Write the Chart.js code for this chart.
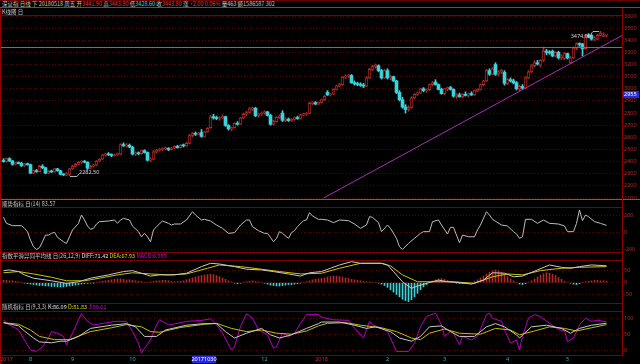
<!DOCTYPE html>
<html>
<head>
<meta charset="utf-8">
<script src="https://cdn.jsdelivr.net/npm/chart.js@4.4.1/dist/chart.umd.min.js"></script>
<style>
  body { margin: 0; background: #000; width: 640px; height: 364px; overflow: hidden; position: relative;
         font-family: "Noto Sans CJK SC", "Noto Sans", sans-serif; }
  .txt { position: absolute; font-size: 5.5px; line-height: 7px; white-space: nowrap; color: #c8c8c8; }
  .hl { position: absolute; height: 1px; }
  .vl { position: absolute; width: 1px; }
  canvas { position: absolute; left: 0; }
  .r { color: #e03c3c; } .c { color: #3cd8d8; } .y { color: #d8d800; } .m { color: #d800d8; } .w { color: #e0e0e0; }
</style>
</head>
<body>
<div class="hl" style="top:0;left:0;width:640px;background:#6a0000"></div>
<div class="hl" style="top:7px;left:0;width:640px;background:#555"></div>
<div class="hl" style="top:15px;left:0;width:622px;background:#800000"></div>
<div class="hl" style="top:199px;left:0;width:640px;background:#666"></div>
<div class="hl" style="top:207px;left:0;width:622px;background:#800000"></div>
<div class="hl" style="top:252px;left:0;width:622px;background:#800000"></div>
<div class="hl" style="top:260px;left:0;width:622px;background:#800000"></div>
<div class="hl" style="top:303px;left:0;width:622px;background:#800000"></div>
<div class="hl" style="top:311px;left:0;width:622px;background:#800000"></div>
<div class="hl" style="top:355px;left:0;width:622px;background:#800000"></div>
<div class="vl" style="left:0;top:8px;height:356px;background:#900000"></div>
<div class="vl" style="left:622px;top:8px;height:348px;background:#900000"></div>

<canvas id="cMain" width="640" height="191" style="top:9px"></canvas>
<canvas id="cCci" width="640" height="45" style="top:207px"></canvas>
<canvas id="cMacd" width="640" height="43" style="top:260px"></canvas>
<canvas id="cKdj" width="640" height="53" style="top:311px"></canvas>

<div class="txt" id="info" style="left:2px;top:0.5px"></div>
<div class="txt" style="left:2px;top:8.5px">K线图 日</div>
<div class="txt" id="cciHead" style="left:2px;top:200.5px"></div>
<div class="txt" id="macdHead" style="left:2px;top:252.5px"></div>
<div class="txt" id="kdjHead" style="left:2px;top:303.5px"></div>

<script>
// daily candles, 2017-07 .. 2018-05-18
const opens = [
  2410,2400,2425,2405,2378,2390,2385,2365,2380,2375,
  2305,2325,2318,2362,2350,2305,2320,2315,2340,2325,
  2295,2290,2295,2340,2362,2378,2395,2400,2395,2345,
  2362,2370,2405,2420,2455,2462,2455,2450,2458,2462,
  2540,2530,2535,2520,2462,2470,2465,2490,2475,2412,
  2420,2480,2492,2500,2505,2510,2500,2512,2525,2515,
  2535,2530,2550,2615,2630,2625,2640,2608,2645,2680,
  2770,2760,2755,2762,2770,2698,2670,2680,2715,2708,
  2760,2790,2805,2835,2840,2778,2792,2800,2810,2780,
  2708,2730,2765,2800,2740,2750,2738,2748,2760,2755,
  2785,2790,2798,2880,2885,2875,2888,2910,2970,2950,
  2955,2995,3025,3035,3095,3105,3110,3050,3040,3035,
  3030,3022,3090,3160,3185,3190,3150,3090,3150,3090,
  3100,3065,2970,2910,2850,2830,2845,2925,2955,2965,
  3000,2985,2992,3035,3055,3035,2995,2960,3000,3010,
  2995,2940,2950,2935,2955,2945,2960,2950,2985,2995,
  3035,3065,3150,3120,3200,3120,3140,3135,3045,3075,
  3065,3050,3000,3020,3005,3090,3140,3190,3215,3195,
  3235,3310,3300,3310,3270,3300,3255,3250,3290,3215,
  3255,3335,3370,3370,3330,3440,3440,3410,3410,3440,
  3432,3441.9
];
const highs = [
  2425,2430,2432,2410,2395,2398,2395,2385,2388,2380,
  2330,2335,2370,2375,2352,2325,2330,2345,2345,2328,
  2300,2310,2345,2370,2385,2400,2408,2410,2398,2370,
  2380,2410,2425,2460,2470,2475,2465,2462,2470,2548,
  2555,2550,2545,2525,2480,2480,2495,2498,2480,2430,
  2490,2500,2510,2515,2520,2515,2518,2530,2535,2540,
  2545,2560,2625,2640,2645,2640,2665,2650,2680,2780,
  2790,2775,2770,2785,2775,2705,2685,2720,2730,2765,
  2800,2815,2845,2850,2848,2800,2810,2820,2815,2790,
  2740,2770,2785,2820,2760,2760,2755,2768,2775,2790,
  2800,2805,2890,2895,2895,2892,2915,2945,2985,2960,
  3000,3030,3045,3100,3115,3120,3118,3065,3055,3050,
  3045,3100,3170,3195,3205,3198,3160,3160,3165,3110,
  3105,3070,2985,2930,2870,2860,2935,2960,2975,3005,
  3010,3000,3040,3060,3075,3040,3005,3005,3015,3020,
  3000,2960,2965,2960,2975,2965,2975,2990,3000,3040,
  3070,3160,3165,3175,3215,3150,3160,3150,3085,3090,
  3080,3060,3030,3035,3100,3150,3200,3230,3235,3240,
  3345,3325,3315,3320,3305,3310,3280,3300,3295,3265,
  3345,3380,3380,3375,3450,3455,3450,3430,3450,3474,
  3462,3443.8
];
const lows = [
  2395,2395,2400,2370,2372,2380,2360,2360,2370,2300,
  2300,2310,2315,2340,2300,2300,2310,2312,2320,2290,
  2285,2284,2282.5,2335,2355,2372,2385,2390,2335,2340,
  2355,2365,2398,2415,2445,2450,2440,2445,2450,2458,
  2525,2520,2515,2455,2450,2455,2460,2470,2405,2400,
  2415,2470,2485,2490,2495,2490,2495,2505,2510,2512,
  2520,2525,2545,2605,2615,2620,2600,2605,2640,2675,
  2750,2745,2740,2755,2690,2660,2655,2675,2700,2705,
  2755,2780,2800,2820,2770,2765,2780,2790,2775,2700,
  2700,2725,2755,2730,2730,2730,2732,2740,2748,2750,
  2775,2780,2795,2870,2868,2870,2882,2905,2945,2940,
  2950,2990,3015,3030,3085,3095,3045,3030,3025,3020,
  3010,3018,3085,3150,3170,3140,3080,3085,3080,3075,
  3060,2960,2900,2840,2800,2815,2840,2920,2945,2960,
  2975,2970,2988,3025,3030,2990,2955,2950,2985,2990,
  2930,2920,2930,2925,2940,2930,2945,2945,2975,2990,
  3025,3060,3110,3115,3110,3105,3125,3030,3035,3055,
  3040,2990,2985,2995,3000,3085,3135,3180,3195,3180,
  3225,3280,3285,3265,3265,3245,3240,3240,3245,3210,
  3250,3320,3350,3270,3325,3420,3400,3395,3405,3435,
  3428,3428.6
];
const closes = [
  2400,2425,2405,2378,2390,2385,2365,2380,2375,2305,
  2325,2318,2362,2350,2305,2320,2315,2340,2325,2295,
  2290,2300,2340,2362,2378,2395,2400,2395,2345,2362,
  2370,2405,2420,2455,2462,2455,2450,2458,2462,2540,
  2530,2535,2520,2462,2470,2465,2490,2475,2412,2420,
  2480,2492,2500,2505,2510,2500,2512,2525,2515,2535,
  2530,2550,2615,2630,2625,2632,2608,2645,2675,2770,
  2760,2755,2762,2770,2698,2670,2680,2715,2708,2760,
  2790,2805,2835,2840,2778,2792,2800,2810,2780,2708,
  2730,2765,2775,2740,2750,2738,2748,2760,2755,2785,
  2790,2798,2880,2885,2875,2888,2910,2938,2950,2955,
  2995,3025,3035,3095,3105,3110,3050,3040,3035,3030,
  3022,3090,3160,3185,3190,3150,3090,3150,3090,3100,
  3065,2970,2910,2850,2830,2845,2925,2955,2965,3000,
  2985,2992,3035,3050,3035,2995,2960,3000,3010,2995,
  2940,2950,2935,2955,2945,2960,2950,2985,2995,3035,
  3065,3150,3120,3165,3120,3140,3150,3045,3075,3065,
  3050,3000,3020,3005,3090,3140,3190,3215,3205,3235,
  3310,3300,3295,3270,3300,3255,3270,3290,3255,3255,
  3335,3370,3365,3330,3440,3430,3410,3420,3440,3460,
  3441.8,3443.8
];

const priceTicks = [3600,3500,3400,3300,3200,3100,3000,2900,2800,2700,2600,2500,2400,2300,2200,2100];
const cciTicks = [200, 0, -200];
const macdTicks = [50, 0, -50];
const kdjTicks = [100, 50, 0];

// date axis: candle index of each month label
const monthTickIdx = [1, 9, 23, 43, 87, 106, 128, 147, 168, 188];
const monthTickLabels = ['2017', '8', '9', '10', '12', '2018', '2', '3', '4', '5'];
const cursorIdx = 67;
const cursorDate = '20171030';
const cursorPrice = 2955;

// drawn lines on the price panel: [candle index, price]
const trendLine = [[106.7, 2100], [206.3, 3441]];
const levelLine = 3340;

// indicator lines: [candle index, value]
const cciPts = [[0,181],[1,108],[3,80],[6,80],[7,48],[8,7],[9,-93],[10,-173],[11,-205],[12,-185],[13,-113],[14,-33],[15,-33],[16,-12],[17,0],[18,-60],[20,-113],[21,-133],[22,-53],[23,28],[25,108],[26,208],[27,148],[28,76],[29,36],[30,48],[31,100],[32,128],[35,136],[37,148],[38,108],[39,148],[40,168],[42,148],[43,76],[45,7],[46,-53],[47,-12],[48,-53],[49,-113],[50,28],[51,68],[53,136],[55,108],[56,88],[57,100],[59,100],[61,148],[63,248],[64,208],[66,148],[67,156],[69,136],[71,88],[73,48],[75,-12],[77,-4],[79,88],[81,148],[82,148],[83,68],[85,20],[87,-12],[88,-12],[89,-60],[90,-113],[91,-72],[92,8],[93,-12],[95,-72],[96,-4],[97,20],[98,68],[100,140],[101,148],[102,236],[103,196],[105,156],[106,156],[108,148],[110,116],[112,148],[115,140],[117,100],[119,48],[121,88],[122,188],[123,180],[125,116],[126,8],[128,88],[129,48],[131,-72],[132,-173],[133,-205],[135,-133],[137,-72],[139,-12],[140,8],[142,8],[143,128],[145,148],[146,88],[148,-20],[149,60],[150,60],[152,-125],[153,-33],[155,-53],[157,-53],[158,28],[159,88],[161,248],[162,208],[163,156],[166,88],[168,76],[170,8],[171,-20],[172,-72],[173,-53],[174,156],[176,156],[178,108],[180,148],[182,108],[185,100],[187,76],[188,8],[190,8],[191,108],[192,268],[193,140],[194,208],[195,188],[197,128],[199,108],[201,83.57]];

const diffPts = [[0,51],[2,54],[5,47],[7,33],[10,19],[16,8],[21,-3],[25,4],[29,19],[35,33],[40,47],[43,51],[46,40],[49,28],[52,33],[57,33],[61,40],[66,68],[69,82],[72,79],[77,68],[81,57],[86,54],[90,47],[95,37],[99,28],[102,42],[106,47],[109,61],[112,75],[116,89],[119,82],[122,82],[126,82],[128,75],[130,47],[133,4],[136,-24],[138,-14],[141,-3],[145,11],[148,4],[152,0],[156,-6],[160,11],[163,42],[167,40],[170,25],[173,28],[178,54],[182,75],[186,65],[189,61],[192,68],[196,75],[201,71.42]];
const deaPts = [[0,42],[5,47],[10,37],[16,23],[21,8],[27,8],[32,19],[38,33],[43,42],[49,37],[55,33],[61,37],[68,61],[72,75],[79,68],[86,57],[92,47],[99,37],[106,40],[112,61],[119,82],[126,82],[129,71],[133,33],[138,4],[143,4],[150,4],[157,-3],[163,25],[168,37],[173,33],[179,51],[186,61],[192,65],[201,67.93]];
const macdHist = [
  10,10,8,8,6,4,2,
  -2,-4,-6,-8,-10,-12,-12,-14,-14,-16,-16,-18,-18,-18,-16,-14,-12,-10,-8,-6,-4,-3,-2,-1,
  2,4,6,8,10,12,14,16,16,14,12,12,10,8,6,4,2,2,4,6,8,8,10,10,8,6,4,4,6,8,
  12,16,20,24,28,30,32,34,36,34,30,26,20,14,8,
  4,-2,-4,-2,2,4,6,8,6,4,2,-2,-6,-10,-12,
  -14,-14,-12,-10,-8,-8,-6,-4,-2,2,4,8,12,14,16,
  18,20,24,26,28,28,26,24,20,18,14,12,10,8,6,4,4,2,0,-2,
  -6,-12,-20,-30,-40,-50,-60,-70,-76,-80,-72,-60,-45,
  -30,-18,-8,2,8,12,16,18,14,10,6,2,
  -2,-4,-4,-2,0,2,6,12,
  20,28,36,44,50,54,50,44,36,26,16,8,
  0,-6,-8,-4,2,8,
  16,24,32,38,42,40,36,30,22,14,6,2,
  -2,-6,-8,-4,0,
  4,6,8,10,10,8,8,6.989
];

const kPts = [[0,88],[5,78],[7,62],[10,40],[12,28],[16,25],[19,30],[21,30],[25,45],[29,70],[36,80],[41,85],[44,75],[47,45],[51,45],[54,65],[61,80],[67,85],[71,85],[74,60],[77,40],[81,55],[86,70],[89,50],[92,40],[96,50],[101,70],[105,85],[106,90],[112,90],[117,80],[121,70],[124,75],[129,60],[132,40],[136,30],[139,45],[142,75],[146,78],[149,60],[152,45],[157,45],[161,75],[164,85],[167,75],[171,50],[172,40],[176,75],[181,80],[186,70],[189,55],[192,70],[196,80],[201,86.09]];
const dPts = [[0,88],[5,83],[9,65],[12,45],[17,35],[22,35],[29,60],[36,72],[41,82],[46,75],[49,60],[52,58],[59,73],[67,83],[71,86],[76,70],[81,60],[86,65],[91,55],[96,52],[101,62],[105,78],[108,86],[114,88],[119,80],[126,72],[131,60],[136,40],[139,35],[142,55],[147,68],[152,55],[159,52],[164,70],[169,65],[172,50],[177,62],[182,75],[187,70],[191,62],[196,72],[201,81.83]];
const jPts = [[0,97],[1,86],[5,66],[7,34],[9,3],[11,-2],[13,13],[15,40],[16,60],[18,55],[20,45],[21,19],[23,55],[25,97],[26,116],[28,92],[30,81],[32,84],[37,92],[41,92],[43,60],[45,24],[46,-7],[47,8],[49,34],[51,81],[52,97],[55,81],[57,84],[61,92],[66,95],[69,100],[71,81],[73,55],[76,3],[77,13],[79,76],[81,116],[83,102],[85,66],[88,50],[90,8],[91,13],[93,55],[95,45],[97,55],[99,86],[101,113],[105,113],[106,105],[110,97],[115,95],[117,71],[120,40],[122,92],[123,81],[126,71],[128,60],[130,19],[131,-2],[135,-2],[137,24],[139,76],[141,107],[144,118],[146,81],[147,45],[149,60],[150,55],[152,19],[153,45],[156,34],[158,45],[161,113],[162,118],[163,102],[166,92],[167,66],[169,24],[171,34],[172,3],[173,45],[175,102],[177,113],[179,107],[182,86],[185,66],[187,63],[188,29],[190,40],[192,81],[194,102],[196,92],[198,95],[201,90.61]];

const RED = '#b02a2a';
const CYAN = '#3cd4dc';
const XMIN = -0.8333, XMAX = 206.1667;

function pts(arr) {
  return arr.map(p => ({ x: p[0], y: p[1] }));
}

function lineSet(arr, color) {
  return { type: 'line', data: pts(arr), borderColor: color, borderWidth: 1, pointRadius: 0, tension: 0, order: 0 };
}

function panelOptions(yMin, yMax, yTicks, pad, xAxis) {
  return {
    responsive: false,
    animation: false,
    events: [],
    layout: { padding: pad },
    plugins: { legend: { display: false }, tooltip: { enabled: false } },
    scales: {
      x: Object.assign({ type: 'linear', min: XMIN, max: XMAX, offset: false, display: false,
                         grid: { display: false, drawTicks: false }, border: { display: false } }, xAxis || {}),
      y: {
        type: 'linear', position: 'right', min: yMin, max: yMax,
        afterBuildTicks: s => { s.ticks = yTicks.map(v => ({ value: v })); },
        afterFit: s => { s.width = 18; s.paddingTop = 0; s.paddingBottom = 0; },
        grid: { color: '#5c0000', drawTicks: false, borderDash: [1, 2] },
        border: { display: false, dash: [1, 2] },
        ticks: { color: '#b82828', padding: 2, autoSkip: false, font: { size: 5.5, family: '"Noto Sans"' },
                 callback: v => String(v) }
      }
    }
  };
}

// price panel extras: high / low tags, cursor price box
const markPlugin = {
  id: 'marks',
  afterDraw(chart) {
    const { ctx, scales: { x, y } } = chart;
    let hi = 0, lo = 0;
    for (let i = 1; i < highs.length; i++) {
      if (highs[i] > highs[hi]) hi = i;
      if (lows[i] < lows[lo]) lo = i;
    }
    ctx.save();
    ctx.font = '5.5px "Noto Sans"';
    ctx.lineWidth = 1;
    ctx.strokeStyle = '#b0b0b0';
    ctx.fillStyle = '#d8d8d8';
    ctx.textBaseline = 'middle';

    const hx = Math.round(x.getPixelForValue(hi)), hy = Math.round(y.getPixelForValue(highs[hi]));
    ctx.beginPath();
    ctx.moveTo(hx - 1, hy + 0.5); ctx.lineTo(hx - 7, hy + 0.5); ctx.lineTo(hx - 9, hy + 3);
    ctx.stroke();
    ctx.textAlign = 'right';
    ctx.fillText(highs[hi].toFixed(2), hx - 9, hy + 5.5);

    const lx = Math.round(x.getPixelForValue(lo)), ly = Math.round(y.getPixelForValue(lows[lo]));
    ctx.beginPath();
    ctx.moveTo(lx + 1, ly + 0.5); ctx.lineTo(lx + 8, ly + 0.5); ctx.lineTo(lx + 10, ly - 2);
    ctx.stroke();
    ctx.textAlign = 'left';
    ctx.fillText(lows[lo].toFixed(2), lx + 10, ly - 3.5);

    const cy = Math.round(y.getPixelForValue(cursorPrice));
    ctx.fillStyle = '#2828d8';
    ctx.fillRect(623, cy - 3, 16, 7);
    ctx.fillStyle = '#ffffff';
    ctx.fillText(String(cursorPrice), 624, cy + 0.5);
    ctx.restore();
  }
};

const dateBoxPlugin = {
  id: 'dateBox',
  afterDraw(chart) {
    const { ctx, scales: { x }, chartArea } = chart;
    const dx = Math.round(x.getPixelForValue(cursorIdx));
    ctx.save();
    ctx.fillStyle = '#2828d8';
    ctx.fillRect(dx - 12, chartArea.bottom + 1, 24, 7);
    ctx.fillStyle = '#ffffff';
    ctx.font = '5.5px "Noto Sans"';
    ctx.textAlign = 'center';
    ctx.textBaseline = 'middle';
    ctx.fillText(cursorDate, dx, chartArea.bottom + 4.5);
    ctx.restore();
  }
};

const up = closes.map((c, i) => c >= opens[i]);

new Chart(document.getElementById('cMain'), {
  type: 'bar',
  data: {
    datasets: [
      { type: 'bar', data: highs.map((h, i) => ({ x: i, y: [lows[i], h] })),
        backgroundColor: up.map(u => u ? RED : CYAN), barThickness: 1, grouped: false, order: 2 },
      { type: 'bar', data: opens.map((o, i) => ({ x: i, y: [o, closes[i]] })),
        backgroundColor: up.map(u => u ? '#000000' : CYAN), borderColor: up.map(u => u ? RED : CYAN),
        borderWidth: up.map(u => u ? 1 : 0), borderSkipped: false, barThickness: 3, minBarLength: 1,
        grouped: false, order: 1 },
      lineSet(trendLine, '#a830b0'),
      lineSet([[XMIN, levelLine], [XMAX, levelLine]], '#9c5aa4')
    ]
  },
  options: panelOptions(2100, 3600, priceTicks, { left: 1, right: 0, top: 7, bottom: 2 }),
  plugins: [markPlugin]
});

new Chart(document.getElementById('cCci'), {
  type: 'line',
  data: { datasets: [lineSet(cciPts, '#bcbcbc')] },
  options: panelOptions(-236, 304, cciTicks, { left: 1, right: 0, top: 0, bottom: 0 })
});

new Chart(document.getElementById('cMacd'), {
  type: 'bar',
  data: {
    datasets: [
      { type: 'bar', data: macdHist.map((v, i) => ({ x: i, y: v })),
        backgroundColor: macdHist.map(v => v >= 0 ? RED : CYAN), barThickness: 1, grouped: false, order: 2 },
      lineSet(diffPts, '#c8c8c8'),
      lineSet(deaPts, '#c8c800')
    ]
  },
  options: panelOptions(-86, 96, macdTicks, { left: 1, right: 0, top: 0, bottom: 0 })
});

new Chart(document.getElementById('cKdj'), {
  type: 'line',
  data: {
    datasets: [lineSet(kPts, '#c8c8c8'), lineSet(dPts, '#c0c000'), lineSet(jPts, '#b800c0')]
  },
  options: panelOptions(-13, 124.4, kdjTicks, { left: 1, right: 0, top: 0, bottom: 0 }, {
    display: true,
    afterBuildTicks: s => { s.ticks = monthTickIdx.map(v => ({ value: v })); },
    afterFit: s => { s.height = 9; s.paddingLeft = 0; s.paddingRight = 0; },
    ticks: { autoSkip: false, maxRotation: 0, padding: 1, font: { size: 5.5, family: '"Noto Sans"' },
             color: c => (monthTickLabels[c.index] || '').length === 4 ? '#c83030' : '#30b4b4',
             callback: (v, i) => monthTickLabels[i] }
  }),
  plugins: [dateBoxPlugin]
});

// header texts
const n = closes.length - 1;
const chg = closes[n] - closes[n - 1];
document.getElementById('info').innerHTML =
  '深证指 日线 下 20180518 周五 开<span class="r">' + opens[n].toFixed(2) + '</span> 高<span class="r">' +
  highs[n].toFixed(2) + '</span> 低<span class="c">' + lows[n].toFixed(2) + '</span> 收<span class="r">' +
  closes[n].toFixed(2) + '</span> 涨 <span class="r">+' + chg.toFixed(2) + ' ' +
  (chg / closes[n - 1] * 100).toFixed(2) + '%</span> 量463 额1586587 302';
document.getElementById('cciHead').innerHTML = '顺势指标 日(14) ' + cciPts[cciPts.length - 1][1].toFixed(2);
document.getElementById('macdHead').innerHTML = '指数平滑异同平均线 日(26,12,9) <span class="w">DIFF:' +
  diffPts[diffPts.length - 1][1].toFixed(2) + '</span> <span class="y">DEA:' + deaPts[deaPts.length - 1][1].toFixed(2) +
  '</span> <span class="m">MACD:' + macdHist[n].toFixed(3) + '</span>';
document.getElementById('kdjHead').innerHTML = '随机指标 日(9,3,3) <span class="w">K:' + kPts[kPts.length - 1][1].toFixed(2) +
  '</span> <span class="y">D:' + dPts[dPts.length - 1][1].toFixed(2) + '</span> <span class="m">J:' +
  jPts[jPts.length - 1][1].toFixed(2) + '</span>';
</script>
</body>
</html>
